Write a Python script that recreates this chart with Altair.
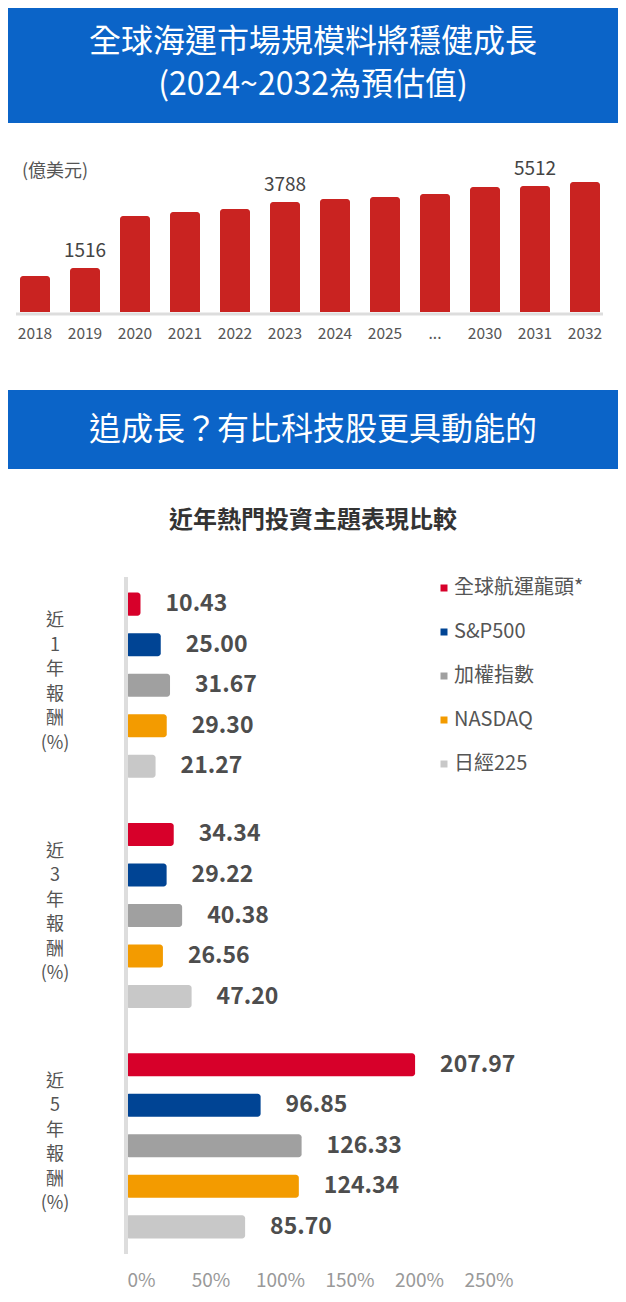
import altair as alt
import pandas as pd

FONT = "Noto Sans CJK TC"
BLUE = "#0B64C8"

# ---------------- data: top chart ----------------
years = ["2018", "2019", "2020", "2021", "2022", "2023", "2024", "2025", "...", "2030", "2031", "2032"]
market_size = [1240, 1516, 3307, 3445, 3548, 3788, 3893, 3962, 4065, 4306, 4341, 4478]  # bar heights as drawn
size_labels = ["", "1516", "", "", "", "3788", "", "", "", "", "5512", ""]

banner1_lines = ["全球海運市場規模料將穩健成長", "(2024~2032為預估值)"]
banner2_text = ["追成長？有比科技股更具動能的"]
unit_text = ["(億美元)"]
title_text = ["近年熱門投資主題表現比較"]

# ---------------- data: bottom chart ----------------
periods = ["近\n1\n年\n報\n酬\n(%)", "近\n3\n年\n報\n酬\n(%)", "近\n5\n年\n報\n酬\n(%)"]
series = ["全球航運龍頭*", "S&P500", "加權指數", "NASDAQ", "日經225"]
series_colors = ["#D7002A", "#004494", "#A0A0A0", "#F39B00", "#C8C8C8"]
returns_1y = [10.43, 25.00, 31.67, 29.30, 21.27]
returns_3y = [34.34, 29.22, 40.38, 26.56, 47.20]
returns_5y = [207.97, 96.85, 126.33, 124.34, 85.70]
x_ticks = [0, 50, 100, 150, 200, 250]

# ---------------- top panel ----------------
W_TOP, H_TOP = 604, 189
top_df = pd.DataFrame({"year": years, "size": market_size, "label": size_labels})
one = pd.DataFrame({"k": [0]})

x_top = alt.X("year:N", sort=years,
              scale=alt.Scale(paddingInner=0.4, paddingOuter=0.24),
              axis=alt.Axis(title=None, domain=False, ticks=False, tickSize=0, labelPadding=14,
                            labelFontSize=15.5, labelColor="#555", labelAngle=0, grid=False))
y_top = alt.Y("size:Q", scale=alt.Scale(domain=[0, 1516 * H_TOP / 44], nice=False), axis=None)

bars_top = alt.Chart(top_df).mark_bar(color="#C92321", cornerRadiusTopLeft=3, cornerRadiusTopRight=3).encode(
    x=x_top, y=y_top)
labels_top = alt.Chart(top_df).transform_filter("datum.label != ''").mark_text(
    dy=-17, fontSize=19, color="#444", baseline="middle").encode(
    x=alt.X("year:N", sort=years), y="size:Q", text="label:N")
baseline = alt.Chart(one).mark_rule(color="#DDDDDD", strokeWidth=3).encode(
    x=alt.value(8), x2=alt.value(595), y=alt.value(H_TOP + 2))

banner1 = alt.Chart(one).mark_rect(color=BLUE).encode(
    x=alt.value(0), x2=alt.value(610), y=alt.value(-115), y2=alt.value(0))
b1_l1 = alt.Chart(pd.DataFrame({"t": [banner1_lines[0]]})).mark_text(
    fontSize=32, color="white", baseline="middle").encode(x=alt.value(305), y=alt.value(-81), text="t:N")
b1_l2 = alt.Chart(pd.DataFrame({"t": [banner1_lines[1]]})).mark_text(
    fontSize=32, color="white", baseline="middle").encode(x=alt.value(305), y=alt.value(-38), text="t:N")
unit = alt.Chart(pd.DataFrame({"t": unit_text})).mark_text(
    fontSize=18, color="#555", align="left", baseline="middle").encode(x=alt.value(14), y=alt.value(49), text="t:N")

banner2 = alt.Chart(one).mark_rect(color=BLUE).encode(
    x=alt.value(0), x2=alt.value(610), y=alt.value(267), y2=alt.value(346))
b2_t = alt.Chart(pd.DataFrame({"t": banner2_text})).mark_text(
    fontSize=32, color="white", baseline="middle").encode(x=alt.value(305), y=alt.value(307), text="t:N")
title = alt.Chart(pd.DataFrame({"t": title_text})).mark_text(
    fontSize=24, fontWeight="bold", color="#333", baseline="middle").encode(
    x=alt.value(305), y=alt.value(398), text="t:N")
spacer = alt.Chart(one).mark_rect(color="white").encode(
    x=alt.value(0), x2=alt.value(1), y=alt.value(346), y2=alt.value(452))

top_panel = alt.layer(banner1, b1_l1, b1_l2, unit, bars_top, baseline, labels_top,
                      banner2, b2_t, title, spacer).properties(width=W_TOP, height=H_TOP)

# ---------------- bottom panel ----------------
rows = []
for p, vals in zip(periods, [returns_1y, returns_3y, returns_5y]):
    for s, v in zip(series, vals):
        rows.append({"period": p, "series": s, "value": v, "label": f"{v:.2f}"})
bot_df = pd.DataFrame(rows)

W_BOT, H_BOT = 600, 677
ZERO_PX, PX_PER_PCT = 118, 1.39
x_dom = [-ZERO_PX / PX_PER_PCT, (W_BOT - ZERO_PX) / PX_PER_PCT]

x_bot = alt.X("value:Q", scale=alt.Scale(domain=x_dom, nice=False, zero=False),
              axis=alt.Axis(values=x_ticks, labelExpr="datum.value + '%'", title=None, domain=False,
                            ticks=False, tickSize=0, grid=False, labelPadding=17, labelFontSize=19,
                            labelColor="#999", labelOffset=15, labelFlush=False, labelOverlap=False))
y_bot = alt.Y("period:N", sort=periods, scale=alt.Scale(paddingInner=0.12, paddingOuter=0.03), axis=None)
yo_bot = alt.YOffset("series:N", sort=series, scale=alt.Scale(paddingInner=0.43, paddingOuter=0.215))
color = alt.Color("series:N", sort=series, scale=alt.Scale(domain=series, range=series_colors),
                  legend=alt.Legend(title=None, orient="none", legendX=426, legendY=1, symbolType="square",
                                    symbolSize=49, symbolStrokeWidth=0, labelFontSize=20, labelColor="#555",
                                    rowPadding=24, labelOffset=0, padding=0))

bars_bot = alt.Chart(bot_df).mark_bar(cornerRadiusEnd=3).encode(
    x=x_bot, x2=alt.datum(0), y=y_bot, yOffset=yo_bot, color=color)
axis_line = alt.Chart(one).mark_rule(color="#DDDDDD", strokeWidth=4).encode(x=alt.datum(0))
vals_bot = alt.Chart(bot_df).mark_text(align="left", dx=25, fontSize=23, fontWeight="bold",
                                       color="#4D4D4D", baseline="middle").encode(
    x="value:Q", y=alt.Y("period:N", sort=periods), yOffset=alt.YOffset("series:N", sort=series), text="label:N")
period_lbl = alt.Chart(pd.DataFrame({"period": periods})).mark_text(
    lineBreak="\n", lineHeight=24.5, fontSize=18, color="#555", baseline="middle", dy=-64).encode(
    y=alt.Y("period:N", sort=periods), x=alt.value(47), text="period:N")

bottom_panel = alt.layer(bars_bot, axis_line, vals_bot, period_lbl).properties(width=W_BOT, height=H_BOT)

chart = alt.vconcat(top_panel, bottom_panel, spacing=0).resolve_legend(color="independent").properties(
    padding=0, background="white"
).configure(font=FONT).configure_view(stroke=None)

chart.save("out.html", embed_options={"renderer": "svg", "actions": False})
